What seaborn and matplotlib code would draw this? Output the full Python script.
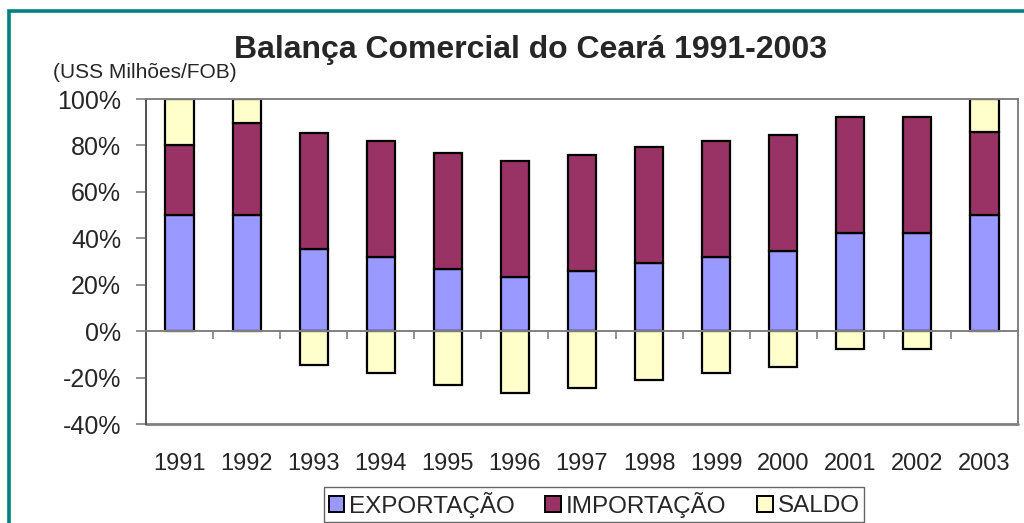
import numpy as np
import matplotlib
matplotlib.use("Agg")
import matplotlib.pyplot as plt
from matplotlib.patches import Patch, Rectangle
from matplotlib.ticker import FixedLocator, PercentFormatter
import seaborn as sns

years = ["1991", "1992", "1993", "1994", "1995", "1996", "1997",
         "1998", "1999", "2000", "2001", "2002", "2003"]
exportacao = [50.0, 50.0, 35.3, 32.0, 26.8, 23.4, 25.9, 29.5, 32.0, 34.6, 42.3, 42.3, 50.0]
importacao = [30.2, 39.8, 50.0, 50.0, 50.0, 50.0, 50.0, 50.0, 50.0, 50.0, 50.0, 50.0, 35.6]
saldo = [19.8, 10.2, -14.7, -18.1, -23.2, -26.8, -24.7, -21.2, -18.0, -15.4, -7.7, -7.7, 14.4]
series_names = ["EXPORTAÇÃO", "IMPORTAÇÃO", "SALDO"]
colors = ["#9999FF", "#993366", "#FFFFCC"]
yticks = [-40, -20, 0, 20, 40, 60, 80, 100]

sns.set_style("white")
plt.rcParams["font.family"] = ["Liberation Sans", "DejaVu Sans"]
plt.rcParams["axes.unicode_minus"] = False

exp_a = np.array(exportacao)
imp_a = np.array(importacao)
sal_a = np.array(saldo)
sal_bottom = np.where(sal_a > 0, exp_a + imp_a, 0.0)

fig = plt.figure(figsize=(10.24, 5.23), dpi=100)
ax = fig.add_axes([146 / 1024, 1 - 424 / 523, (1018 - 146) / 1024, (424 - 99) / 523])

bar_kw = dict(width=0.42, edgecolor="black", linewidth=1.6, saturation=1)
sns.barplot(x=years, y=exportacao, color=colors[0], ax=ax, **bar_kw)
sns.barplot(x=years, y=importacao, bottom=exp_a, color=colors[1], ax=ax, **bar_kw)
sns.barplot(x=years, y=saldo, bottom=sal_bottom, color=colors[2], ax=ax, **bar_kw)

ax.set_ylim(-40, 100)
ax.set_xlim(-0.5, len(years) - 0.5)
ax.set_yticks(yticks)
ax.yaxis.set_major_formatter(PercentFormatter(decimals=0))
ax.tick_params(axis="y", which="major", direction="out", length=7, width=1.2,
               color="#808080", labelsize=18, pad=11, left=True)

# bottom spine moved to the zero line; years shown far below
ax.spines["bottom"].set_position(("data", 0))
ax.spines["bottom"].set_color("#808080")
ax.spines["bottom"].set_linewidth(1.4)
ax.xaxis.set_minor_locator(FixedLocator(np.arange(0.5, len(years) - 0.5, 1.0)))
ax.tick_params(axis="x", which="minor", direction="out", length=6, width=1.2,
               color="#808080", bottom=True)
ax.tick_params(axis="x", which="major", length=0, labelsize=17, pad=88)
ax.axhline(-40, color="#808080", lw=2.0, clip_on=False, zorder=0)

for s in ["top", "right"]:
    ax.spines[s].set_color("#808080")
    ax.spines[s].set_linewidth(1.4)
ax.spines["left"].set_color("#505050")
ax.spines["left"].set_linewidth(1.4)
ax.set_xlabel("")
ax.set_ylabel("")
ax.grid(False)

fig.text(530 / 1024, 1 - 50 / 523, "Balança Comercial do Ceará 1991-2003",
         ha="center", va="center", fontsize=23, fontweight="bold")
fig.text(53 / 1024, 1 - 72 / 523, "(USS Milhões/FOB)", ha="left", va="center",
         fontsize=15)

handles = [Patch(facecolor=c, edgecolor="black", linewidth=1.4) for c in colors]
leg = fig.legend(handles, series_names, loc="center", bbox_to_anchor=(594 / 1024, 1 - 504.5 / 523),
                 ncol=3, fontsize=17.5, frameon=True, fancybox=False,
                 handlelength=0.65, handleheight=0.65, handletextpad=0.2,
                 columnspacing=1.25, borderpad=0.2, borderaxespad=0)
leg.get_frame().set_edgecolor("#404040")
leg.get_frame().set_linewidth(1.0)

fig.patches.append(Rectangle((8.5 / 1024, -0.05), 1.2, 1 - 11 / 523 + 0.05,
                             transform=fig.transFigure, fill=False,
                             edgecolor="#008080", linewidth=2.6))

fig.savefig("out.png", dpi=100)
